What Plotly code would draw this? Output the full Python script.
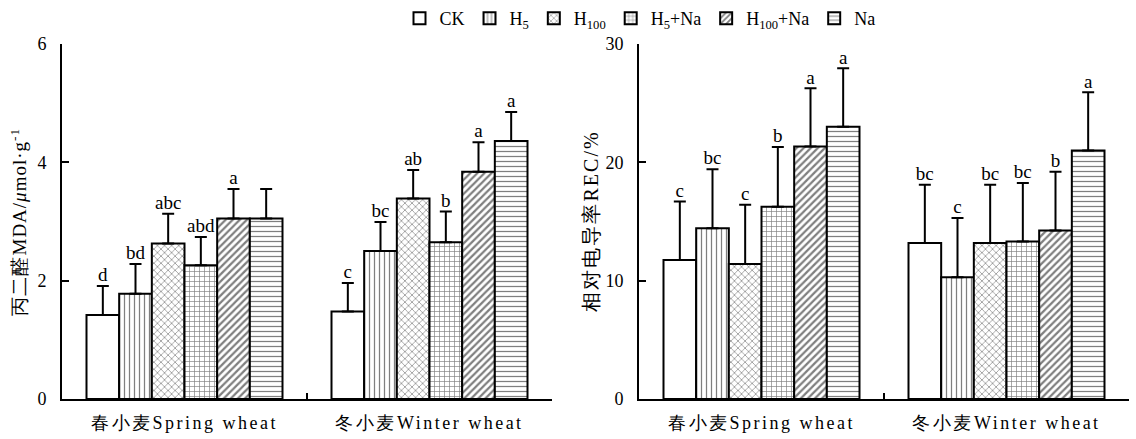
import plotly.graph_objects as go

categories = ["春小麦Spring wheat", "冬小麦Winter wheat"]
treatments = ["CK", "H<sub>5</sub>", "H<sub>100</sub>", "H<sub>5</sub>+Na", "H<sub>100</sub>+Na", "Na"]
patterns = ["", "|", "x", "+", "/", "-"]
pattern_solidity = [0.2, 0.25, 0.25, 0.25, 0.45, 0.25]

# MDA (umol/g) per treatment: [spring, winter]
mda_ck = [1.42, 1.48]
mda_h5 = [1.78, 2.50]
mda_h100 = [2.63, 3.39]
mda_h5na = [2.26, 2.65]
mda_h100na = [3.05, 3.84]
mda_na = [3.05, 4.36]
mda_err_ck = [0.49, 0.48]
mda_err_h5 = [0.50, 0.49]
mda_err_h100 = [0.50, 0.48]
mda_err_h5na = [0.48, 0.52]
mda_err_h100na = [0.50, 0.50]
mda_err_na = [0.50, 0.49]
mda_sig = [["d", "c"], ["bd", "bc"], ["abc", "ab"], ["abd", "b"], ["a", "a"], [" ", "a"]]

# REC (%) per treatment: [spring, winter]
rec_ck = [11.75, 13.19]
rec_h5 = [14.42, 10.28]
rec_h100 = [11.41, 13.19]
rec_h5na = [16.25, 13.30]
rec_h100na = [21.33, 14.25]
rec_na = [23.00, 21.01]
rec_err_ck = [4.95, 4.92]
rec_err_h5 = [5.00, 5.02]
rec_err_h100 = [5.00, 4.92]
rec_err_h5na = [5.05, 4.96]
rec_err_h100na = [4.93, 4.96]
rec_err_na = [4.95, 4.91]
rec_sig = [["c", "bc"], ["bc", "c"], ["c", "bc"], ["b", "bc"], ["a", "b"], ["a", "a"]]

mda_vals = [mda_ck, mda_h5, mda_h100, mda_h5na, mda_h100na, mda_na]
mda_errs = [mda_err_ck, mda_err_h5, mda_err_h100, mda_err_h5na, mda_err_h100na, mda_err_na]
rec_vals = [rec_ck, rec_h5, rec_h100, rec_h5na, rec_h100na, rec_na]
rec_errs = [rec_err_ck, rec_err_h5, rec_err_h100, rec_err_h5na, rec_err_h100na, rec_err_na]

SERIF = "Liberation Serif"
W, H = 1136, 439

fig = go.Figure()

def add_panel(vals, errs, sigs, xa, ya, legend):
    for i, name in enumerate(treatments):
        fig.add_trace(go.Bar(
            x=categories, y=vals[i], name=name, xaxis=xa, yaxis=ya,
            offsetgroup=str(i), showlegend=legend, legendgroup=str(i),
            marker=dict(color="white", line=dict(color="black", width=2),
                        pattern=dict(shape=patterns[i], fgcolor="black", bgcolor="white",
                                     size=5, solidity=pattern_solidity[i], fillmode="overlay")),
            error_y=dict(type="data", symmetric=False, array=errs[i], arrayminus=[0, 0],
                         color="black", thickness=2, width=6),
        ))
        fig.add_trace(go.Scatter(
            x=categories, y=[v + e for v, e in zip(vals[i], errs[i])],
            xaxis=xa, yaxis=ya, offsetgroup=str(i), mode="text", text=sigs[i],
            textposition="top center", showlegend=False, hoverinfo="skip",
            textfont=dict(family=SERIF, size=19, color="black"),
        ))

add_panel(mda_vals, mda_errs, mda_sig, "x", "y", True)
add_panel(rec_vals, rec_errs, rec_sig, "x2", "y2", False)

y0 = 1 - 399 / H
y1 = 1 - 44 / H
cat_ticktext = ['<span style="letter-spacing:2.5px">' + c + "</span>" for c in categories]
xcommon = dict(type="category", showline=True, linecolor="black", linewidth=2,
               ticks="inside", ticklen=6, tickwidth=2, tickcolor="black", tickson="boundaries",
               showgrid=False, zeroline=False, tickfont=dict(family=SERIF, size=18, color="black"),
               tickvals=categories, ticktext=cat_ticktext, ticklabelstandoff=6, automargin=False)
ycommon = dict(showline=True, linecolor="black", linewidth=2, ticks="inside", ticklen=7,
               tickwidth=2, tickcolor="black", showgrid=False, zeroline=False,
               tickfont=dict(family=SERIF, size=18, color="black"), ticklabelstandoff=10,
               automargin=False)

fig.update_layout(
    width=W, height=H, margin=dict(l=0, r=0, t=0, b=0),
    paper_bgcolor="white", plot_bgcolor="white",
    barmode="group", bargap=0.2, bargroupgap=0, scattermode="group", scattergap=0.2,
    font=dict(family=SERIF, color="black"),
    xaxis=dict(domain=[62 / W, 552 / W], anchor="y", **xcommon),
    yaxis=dict(domain=[y0, y1], anchor="x", range=[0, 6], dtick=2, **ycommon),
    xaxis2=dict(domain=[639 / W, 1129 / W], anchor="y2", **xcommon),
    yaxis2=dict(domain=[y0, y1], anchor="x2", range=[0, 30], dtick=10, **ycommon),
    legend=dict(orientation="h", x=640 / W, xanchor="center", y=1.0, yanchor="top",
                font=dict(family=SERIF, size=18, color="black"), traceorder="normal",
                itemwidth=30, bgcolor="rgba(0,0,0,0)"),
    annotations=[
        dict(text='<span style="letter-spacing:1px">丙二醛MDA/<i>μ</i>mol·g<sup>-1</sup></span>',
             textangle=-90, xref="paper", yref="paper",
             x=18 / W, y=(y0 + y1) / 2, xanchor="center", yanchor="middle", showarrow=False,
             font=dict(family=SERIF, size=19, color="black")),
        dict(text='<span style="letter-spacing:2px">相对电导率REC/%</span>',
             textangle=-90, xref="paper", yref="paper",
             x=590 / W, y=(y0 + y1) / 2, xanchor="center", yanchor="middle", showarrow=False,
             font=dict(family=SERIF, size=20, color="black")),
    ],
)

fig.write_html("out.html")
